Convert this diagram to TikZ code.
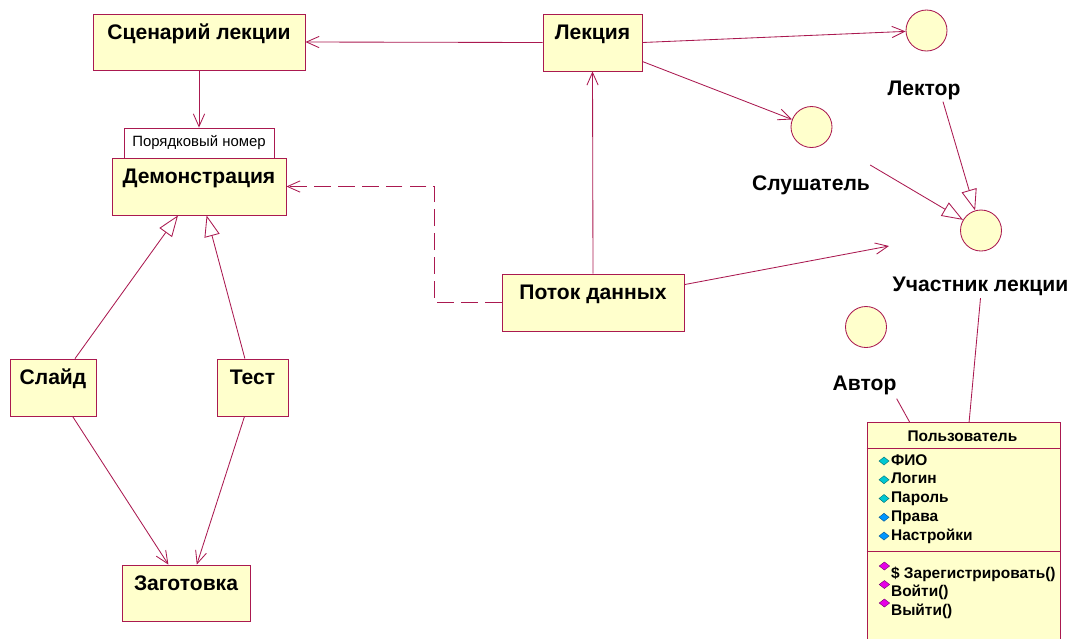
\documentclass[tikz,border=0pt]{standalone}
\usepackage{fontspec}
\setmainfont{Liberation Sans}
\usetikzlibrary{positioning,arrows.meta}

\definecolor{umlline}{RGB}{170,25,80}
\definecolor{umlfill}{RGB}{255,255,204}
\definecolor{attrcyan}{RGB}{0,200,210}
\definecolor{attrblue}{RGB}{0,150,255}
\definecolor{opmagenta}{RGB}{230,0,230}

\tikzset{
  umlbox/.style={draw=umlline, fill=umlfill, line width=0.6pt, inner sep=0pt,
    text height=0.625cm, font=\bfseries\fontsize{15}{17}\selectfont},
  notebox/.style={draw=umlline, fill=white, line width=0.6pt, inner sep=0pt,
    minimum width=3.75cm, minimum height=0.75cm, font=\fontsize{10.6}{12}\selectfont},
  actor/.style={circle, draw=umlline, fill=umlfill, line width=0.6pt,
    minimum size=1.025cm, inner sep=0pt},
  actorname/.style={anchor=base, inner sep=0pt, font=\bfseries\fontsize{15}{17}\selectfont},
  classtext/.style={inner sep=0pt, font=\bfseries\fontsize{11}{12}\selectfont},
  link/.style={draw=umlline, line width=0.6pt},
  assoc/.style={link, -{Straight Barb[length=9pt,width=8pt]}},
  inherit/.style={link, -{Triangle[open,length=15pt,width=11pt,fill=white]}},
}

\begin{document}
\begin{tikzpicture}
\useasboundingbox (0,0) rectangle (26.825,-15.95);

% classes
\node[umlbox, minimum width=5.3cm, text depth=0.775cm] (scen) at (4.975,-1.05) {Сценарий лекции};
\node[umlbox, minimum width=2.475cm, text depth=0.8cm] (lect) at (14.8125,-1.0625) {Лекция};
\node[umlbox, minimum width=4.35cm, text depth=0.8cm] (demo) at (4.975,-4.6625) {Демонстрация};
\node[notebox] (num) at (4.975,-3.575) {Порядковый номер};
\node[umlbox, minimum width=2.15cm, text depth=0.8cm] (slide) at (1.325,-9.6875) {Слайд};
\node[umlbox, minimum width=1.775cm, text depth=0.8cm] (test) at (6.3125,-9.6875) {Тест};
\node[umlbox, minimum width=3.2cm, text depth=0.775cm] (blank) at (4.65,-14.825) {Заготовка};
\node[umlbox, minimum width=4.55cm, text depth=0.8cm] (flow) at (14.825,-7.5625) {Поток данных};

% actors
\node[actor] (lector) at (23.1625,-0.7625) {};
\node[actorname] (lector-name) at (23.1,-2.375) {Лектор};
\node[actor] (listener) at (20.2875,-3.175) {};
\node[actorname] (listener-name) at (20.275,-4.75) {Слушатель};
\node[actor] (member) at (24.525,-5.7625) {};
\node[actorname] (member-name) at (24.5125,-7.29) {Участник лекции};
\node[actor] (author) at (21.65,-8.175) {};
\node[actorname] (author-name) at (21.6125,-9.75) {Автор};
\coordinate (flow-end) at (22.225,-6.15);

% user class
\node[draw=umlline, fill=umlfill, line width=0.6pt, inner sep=0pt, anchor=north,
  minimum width=4.825cm, minimum height=5.5cm] (user) at (24.0875,-10.55) {};
\draw[link] ([yshift=-0.65cm]user.north west) -- ([yshift=-0.65cm]user.north east);
\draw[link] ([yshift=-3.225cm]user.north west) -- ([yshift=-3.225cm]user.north east);
\node[classtext, anchor=base] (user-title) at (24.06,-11.04) {Пользователь};
\foreach \attr/\tone [count=\i] in {ФИО/attrcyan, Логин/attrcyan, Пароль/attrcyan,
    Права/attrblue, Настройки/attrblue} {
  \node[classtext, anchor=base west] (attr\i) at (22.27,{-11.625-0.46875*(\i-1)}) {\attr};
  \filldraw[fill=\tone, draw=\tone!55!black, line width=0.3pt]
    ([xshift=-0.045cm,yshift=0.1cm]attr\i.base west) -- ++(-0.125,0.1)
    -- ++(-0.125,-0.1) -- ++(0.125,-0.1) -- cycle;
}
\foreach \op [count=\i] in {{\$ Зарегистрировать()}, Войти(), Выйти()} {
  \node[classtext, anchor=base west] (op\i) at (22.27,{-14.45-0.4625*(\i-1)}) {\op};
  \filldraw[fill=opmagenta, draw=opmagenta!50!black, line width=0.3pt]
    ([xshift=-0.03cm,yshift=0.3cm]op\i.base west) -- ++(-0.13,0.1)
    -- ++(-0.13,-0.1) -- ++(0.13,-0.1) -- cycle;
}

% connectors
\draw[assoc] (lect.west) -- (scen.east);
\draw[assoc] (scen.south) -- (num.north);
\draw[assoc] (lect.east) -- (lector);
\draw[assoc] ([yshift=-0.475cm]lect.east) -- (listener);
\draw[assoc] (flow.north) -- (lect.south);
\draw[assoc] ([yshift=-0.275cm]flow.north east) -- (flow-end);
\draw[assoc, dash pattern=on 12pt off 5pt] (flow.west) -- ++(-1.675,0) |- (demo.east);
\draw[inherit] ([xshift=0.55cm]slide.north) -- ([xshift=-0.525cm]demo.south);
\draw[inherit] ([xshift=-0.19cm]test.north) -- ([xshift=0.19cm]demo.south);
\draw[assoc] ([xshift=0.49cm]slide.south) -- ([xshift=-0.44cm]blank.north);
\draw[assoc] ([xshift=-0.2cm]test.south) -- ([xshift=0.27cm]blank.north);
\draw[inherit] ([xshift=0.475cm,yshift=-0.05cm]lector-name.south) -- (member);
\draw[inherit] ([yshift=0.25cm]listener-name.north east) -- (member);
\draw[link] ([yshift=-0.05cm]member-name.south) -- ([xshift=0.14cm]user.north);
\draw[link] ([yshift=-0.1cm]author-name.south east) -- ([xshift=1.075cm]user.north west);
\end{tikzpicture}
\end{document}
